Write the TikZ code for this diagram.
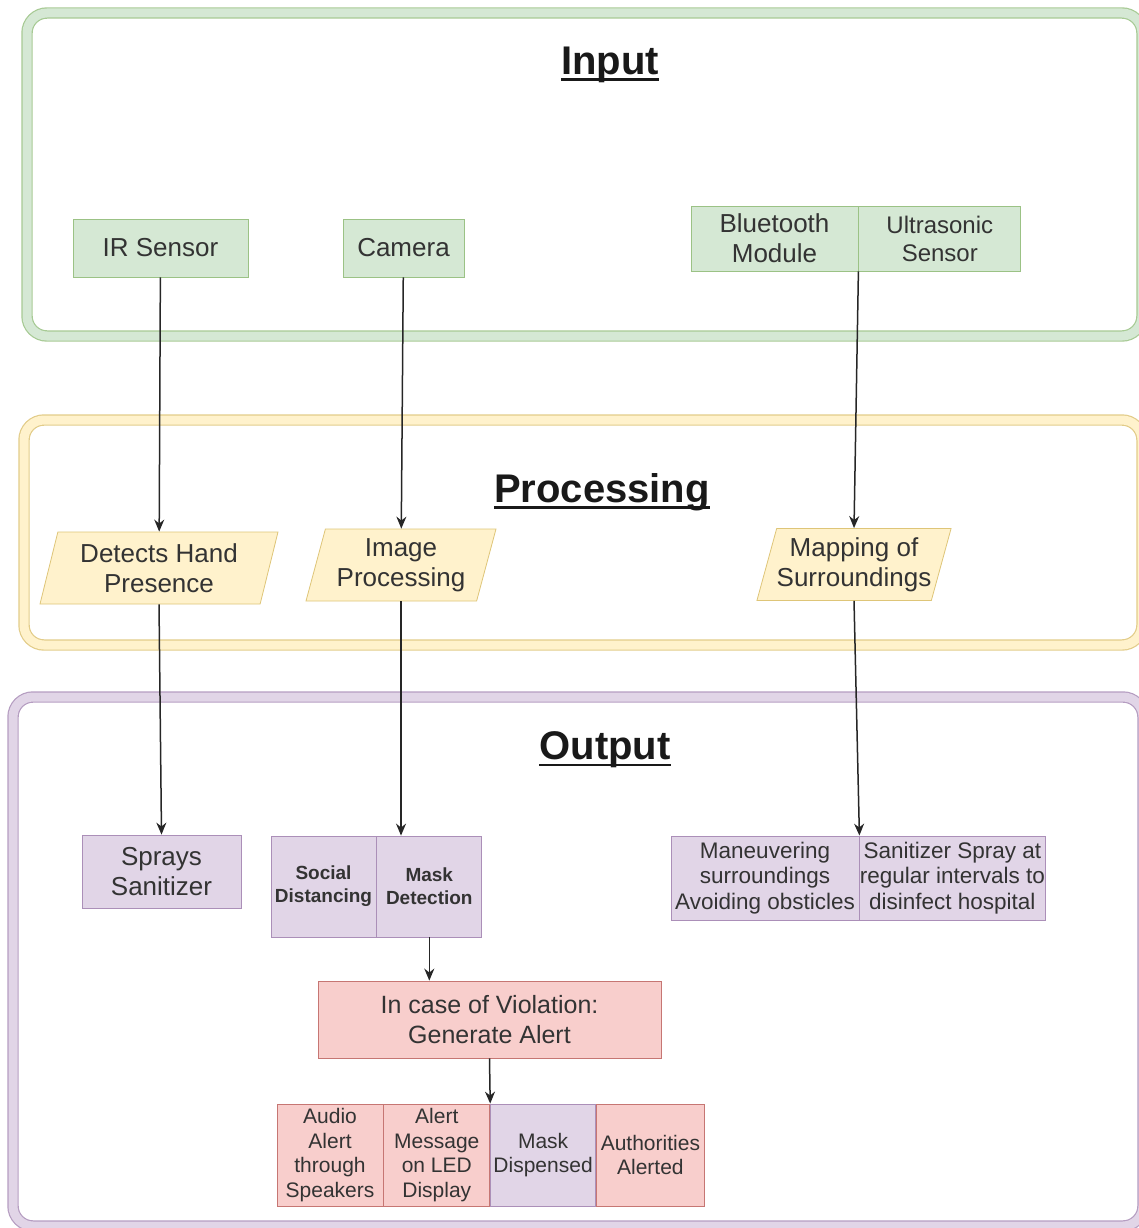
\documentclass[tikz,border=0pt]{standalone}
\usepackage{fontspec}
\setmainfont{Liberation Sans}
\usepackage{xcolor}
\usepackage{tikz}
\usetikzlibrary{shapes.geometric,arrows.meta,positioning}
\definecolor{inputfill}{HTML}{D5E8D4}
\definecolor{inputline}{HTML}{82B366}
\definecolor{procfill}{HTML}{FFF2CC}
\definecolor{procline}{HTML}{D6B656}
\definecolor{outfill}{HTML}{E1D5E7}
\definecolor{outline}{HTML}{9673A6}
\definecolor{alertfill}{HTML}{F8CECC}
\definecolor{alertline}{HTML}{B85450}
\newcommand{\thickul}[1]{\setbox0\hbox{#1}\leavevmode\rlap{\rule[-6.5pt]{\wd0}{2.8pt}}\box0}
\newcommand{\titletxt}{\fontsize{40}{46}\selectfont\bfseries}
\newcommand{\bigtxt}{\fontsize{26}{30}\selectfont}
\newcommand{\midtxt}{\fontsize{24}{28}\selectfont}
\newcommand{\smtxt}{\fontsize{22.5}{25.5}\selectfont}
\newcommand{\tinytxt}{\fontsize{21}{24.5}\selectfont}
\newcommand{\boldtxt}{\fontsize{19}{23}\selectfont\bfseries}
\tikzstyle{layer} = [rounded corners=20pt, line width=1.2pt, double distance=9pt]
\tikzstyle{title} = [text=black!90, font=\titletxt]
\tikzstyle{inblock} = [rectangle, draw=inputline!80!white, fill=inputfill, line width=0.8pt, align=center, text=black!80, font=\bigtxt, inner sep=0pt]
\tikzstyle{procblock} = [trapezium, trapezium left angle=70, trapezium right angle=110, trapezium stretches body, draw=procline!80!white, fill=procfill, line width=0.8pt, align=center, text=black!80, font=\bigtxt, inner sep=0pt, minimum height=72pt]
\tikzstyle{outblock} = [rectangle, draw=outline!80!white, fill=outfill, line width=0.8pt, align=center, text=black!80, font=\bigtxt, inner sep=0pt]
\tikzstyle{alertblock} = [rectangle, draw=alertline!80!white, fill=alertfill, line width=0.8pt, align=center, text=black!80, font=\bigtxt, inner sep=0pt]
\tikzstyle{flow} = [->, line width=1.5pt, draw=black!85]

\begin{document}
\begin{tikzpicture}[x=1pt, y=-1pt, >={Stealth[length=12pt,width=10pt]}]
  \useasboundingbox (0,0) rectangle (1139,1228);
  % the three layers
  \draw[layer, draw=inputline!70!white, double=inputfill] (27,13) rectangle (1142,336);
  \draw[layer, draw=procline!70!white, double=procfill] (24,420) rectangle (1142,645);
  \draw[layer, draw=outline!70!white, double=outfill] (13,697) rectangle (1143,1226);
  \node[title] (intitle) at (610,65) {\thickul{Input}};
  \node[title] (proctitle) at (602,492) {\thickul{Processing}};
  \node[title] (outtitle) at (605,750) {\thickul{Output}};

  % input
  \node[inblock, minimum width=175pt, minimum height=58pt] (irs) at (160.5,248) {IR Sensor};
  \node[inblock, minimum width=121pt, minimum height=58pt] (cam) at (403.5,248) {Camera};
  \node[inblock, minimum width=167pt, minimum height=65pt] (blue) at (774.5,238.5) {Bluetooth\\Module};
  \node[inblock, minimum width=162pt, minimum height=65pt, font=\midtxt, right=0pt of blue] (ultra) {Ultrasonic\\Sensor};

  % processing
  \node[procblock, minimum width=238pt] (hand) at (159,568) {Detects Hand\\Presence};
  \node[procblock, minimum width=190pt] (imgp) at (401,565) {Image\\Processing};
  \node[procblock, minimum width=190pt] (mapp) at (854,564.5) {Mapping of\\Surroundings};

  % output
  \node[outblock, minimum width=159pt, minimum height=73pt] (spray) at (161.5,871.5) {Sprays\\Sanitizer};
  \node[outblock, minimum width=105pt, minimum height=101pt, font=\boldtxt] (social) at (323.5,886.5) {Social\\Distancing};
  \node[outblock, minimum width=105pt, minimum height=101pt, font=\boldtxt, right=0pt of social] (mask) {Mask\\Detection};
  \node[alertblock, minimum width=343pt, minimum height=77pt, font=\fontsize{25}{30}\selectfont] (alert) at (489.5,1019.5) {In case of Violation:\\Generate Alert};
  \node[outblock, minimum width=188pt, minimum height=84pt, font=\smtxt] (maneuver) at (765,878) {Maneuvering\\surroundings\\Avoiding obsticles};
  \node[outblock, minimum width=184pt, minimum height=84pt, font=\smtxt, right=0pt of maneuver] (sanit) {Sanitizer Spray at\\regular intervals to\\disinfect hospital};
  \node[alertblock, minimum width=106pt, minimum height=102pt, font=\tinytxt] (audio) at (330,1155) {Audio\\Alert\\through\\Speakers};
  \node[alertblock, minimum width=106pt, minimum height=102pt, font=\tinytxt, right=0pt of audio] (ledmsg) {Alert\\Message\\on LED\\Display};
  \node[outblock, minimum width=105pt, minimum height=102pt, font=\tinytxt, right=0pt of ledmsg] (maskd) {Mask\\Dispensed};
  \node[alertblock, minimum width=108pt, minimum height=102pt, font=\tinytxt, right=0pt of maskd] (auth) {Authorities\\Alerted};

  % connectors
  \draw[flow] (irs) -- (hand);
  \draw[flow] (cam) -- (imgp);
  \draw[flow] (blue.south east) -- (mapp.north);
  \draw[flow] (hand.south) -- (spray.north);
  \draw[flow] (imgp.south) -- (imgp.south |- mask.north);
  \draw[flow] (mapp.south) -- (maneuver.north east);
  \draw[flow] (mask.south) -- (mask.south |- alert.north);
  \draw[flow] (alert.south) -- (ledmsg.north east);
\end{tikzpicture}
\end{document}
